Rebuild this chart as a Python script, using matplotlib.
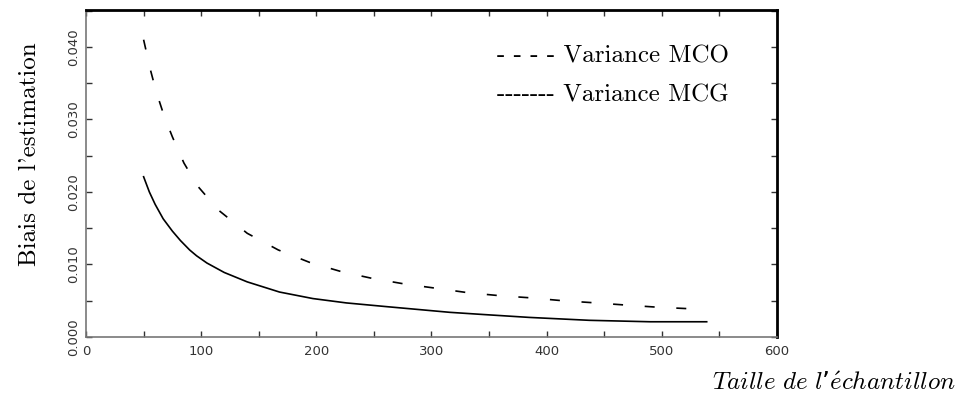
import matplotlib
matplotlib.use("Agg")
import matplotlib.pyplot as plt
from matplotlib.ticker import MultipleLocator

plt.rcParams["mathtext.fontset"] = "cm"

# curves
x_mco = [50, 56, 61, 68, 75, 85, 97, 115, 140, 167, 194, 222, 248, 277,
         305, 332, 359, 386, 414, 443, 469, 497, 524, 532]
y_mco = [0.0410, 0.0368, 0.0338, 0.0304, 0.0276, 0.0240, 0.0208, 0.0175,
         0.0143, 0.0120, 0.0103, 0.0090, 0.0081, 0.0073, 0.0067, 0.0061,
         0.0057, 0.0054, 0.0050, 0.0047, 0.0044, 0.0041, 0.0039, 0.0038]

x_mcg = [50, 55, 60, 67, 75, 82, 90, 96, 105, 120, 140, 168, 197, 226,
         260, 281, 316, 345, 385, 437, 490, 539]
y_mcg = [0.0221, 0.0200, 0.0183, 0.0163, 0.0146, 0.0133, 0.0120, 0.0112,
         0.0102, 0.0089, 0.0076, 0.0062, 0.0053, 0.0047, 0.0042, 0.0039,
         0.0034, 0.0031, 0.0027, 0.0023, 0.0021, 0.0021]

legend_lines = ["- - - - Variance MCO", "------- Variance MCG"]
ylabel = "Biais de l'estimation"
xlabel = r"$\mathit{Taille\ de\ l}$" + "\u2019" + r"$\mathit{\acute{e}chantillon}$"

fig = plt.figure(figsize=(9.58, 4.03), dpi=100)
ax = fig.add_axes([0.0898, 0.1638, 0.7212, 0.8114])

ax.plot(x_mco, y_mco, color="black", lw=1.2, linestyle=(0, (6, 13)))
ax.plot(x_mcg, y_mcg, color="black", lw=1.2)

ax.set_xlim(0, 600)
ax.set_ylim(0, 0.0451)
ax.xaxis.set_major_locator(MultipleLocator(100))
ax.xaxis.set_minor_locator(MultipleLocator(50))
ax.yaxis.set_major_locator(MultipleLocator(0.01))
ax.yaxis.set_minor_locator(MultipleLocator(0.005))
ax.set_yticks([0, 0.01, 0.02, 0.03, 0.04])
ax.set_yticklabels(["0.000", "0.010", "0.020", "0.030", "0.040"],
                   rotation=90, va="center")
ax.tick_params(which="both", direction="in", top=True, right=True,
               length=4, width=1, colors="#333333", labelsize=9.5,
               labelcolor="#333333")
ax.tick_params(axis="y", pad=4)
ax.tick_params(axis="x", pad=6)

for side in ["left", "bottom"]:
    ax.spines[side].set_color("#777777")
    ax.spines[side].set_linewidth(1.2)
for side in ["top", "right"]:
    ax.spines[side].set_color("black")
    ax.spines[side].set_linewidth(2)

fig.text(0.519, 0.8437, legend_lines[0], family=["cmr10", "DejaVu Serif"],
         fontsize=18, va="baseline", ha="left")
fig.text(0.519, 0.7469, legend_lines[1], family=["cmr10", "DejaVu Serif"],
         fontsize=18, va="baseline", ha="left")

fig.text(0.031, 0.618, ylabel, family=["cmr10", "DejaVu Serif"], fontsize=18,
         rotation=90, va="center", ha="center")
fig.text(0.997, 0.050, xlabel, fontsize=18, va="center", ha="right")

fig.savefig("out.png", dpi=100)
